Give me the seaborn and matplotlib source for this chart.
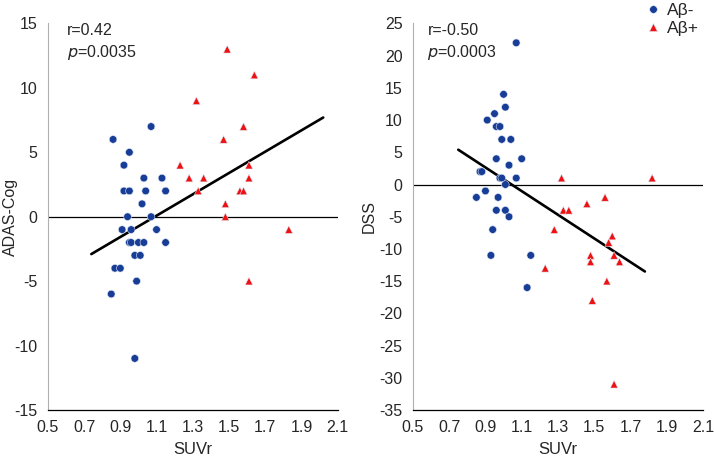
import pandas as pd
import matplotlib
matplotlib.use("Agg")
import matplotlib.pyplot as plt
import numpy as np
import seaborn as sns

# ---------------- data ----------------
# left panel: SUVr vs ADAS-Cog
adas_neg_x = [0.86, 1.07, 0.95, 0.92, 1.03, 1.13, 0.92, 0.95, 1.04, 1.15, 1.02, 0.94, 1.07,
              0.91, 0.96, 1.10, 0.95, 0.96, 1.00, 1.03, 1.15, 0.98, 1.01, 0.87, 0.90, 0.99,
              0.85, 0.98]
adas_neg_y = [6, 7, 5, 4, 3, 3, 2, 2, 2, 2, 1, 0, 0,
              -1, -1, -1, -2, -2, -2, -2, -2, -3, -3, -4, -4, -5,
              -6, -11]
adas_pos_x = [1.49, 1.64, 1.32, 1.47, 1.58, 1.23, 1.61, 1.28, 1.36, 1.61, 1.33, 1.56, 1.58,
              1.48, 1.48, 1.83, 1.61]
adas_pos_y = [13, 11, 9, 6, 7, 4, 4, 3, 3, 3, 2, 2, 2,
              1, 0, -1, -5]

# right panel: SUVr vs DSS
dss_neg_x = [1.07, 1.00, 1.01, 0.95, 0.91, 0.96, 0.98, 0.99, 1.04, 0.96, 1.10, 1.03, 0.87,
             0.88, 0.98, 0.99, 1.07, 1.01, 0.90, 0.85, 0.97, 0.96, 1.01, 1.03, 0.94, 0.93,
             1.15, 1.13]
dss_neg_y = [22, 14, 12, 11, 10, 9, 9, 7, 7, 4, 4, 3, 2,
             2, 1, 1, 1, 0, -1, -2, -2, -4, -4, -5, -7, -11,
             -11, -16]
dss_pos_x = [1.32, 1.82, 1.33, 1.36, 1.46, 1.56, 1.28, 1.60, 1.58, 1.48, 1.61, 1.48, 1.64,
             1.23, 1.57, 1.49, 1.61]
dss_pos_y = [1, 1, -4, -4, -3, -2, -7, -8, -9, -11, -11, -12, -12,
             -13, -15, -18, -31]

# drawn trend lines (ends)
adas_trend_x = [0.74, 2.02]
adas_trend_y = [-2.9, 7.7]
dss_trend_x = [0.75, 1.78]
dss_trend_y = [5.4, -13.5]

groups = ["A\u03b2-", "A\u03b2+"]
stats_adas = ["r=0.42", "0.0035"]
stats_dss = ["r=-0.50", "0.0003"]

x_ticks = np.arange(0.5, 2.11, 0.2)
adas_ticks = np.arange(-15, 16, 5)
dss_ticks = np.arange(-35, 26, 5)

# ----------------------------------------------------------
sns.set_style("white")
plt.rcParams["font.family"] = ["Liberation Sans", "DejaVu Sans"]
plt.rcParams["axes.unicode_minus"] = False

palette = {groups[0]: "#173d96", groups[1]: "#ee1111"}
markers = {groups[0]: "o", groups[1]: "^"}


def make_df(nx, ny, px, py):
    return pd.DataFrame({
        "SUVr": nx + px,
        "score": ny + py,
        "group": [groups[0]] * len(nx) + [groups[1]] * len(px),
    })


adas = make_df(adas_neg_x, adas_neg_y, adas_pos_x, adas_pos_y)
dss = make_df(dss_neg_x, dss_neg_y, dss_pos_x, dss_pos_y)
adas_trend = pd.DataFrame({"SUVr": adas_trend_x, "score": adas_trend_y})
dss_trend = pd.DataFrame({"SUVr": dss_trend_x, "score": dss_trend_y})

fig = plt.figure(figsize=(7.14, 4.62), dpi=100)
ax1 = fig.add_axes([0.067, 0.1126, 0.406, 0.8366])
ax2 = fig.add_axes([0.5784, 0.1126, 0.406, 0.8366])


def panel(ax, df, trend, ticks, ylabel, stats, text_x, label_x, legend):
    ax.axhline(0, color="black", lw=0.9, zorder=1)
    sns.lineplot(data=trend, x="SUVr", y="score", color="black", lw=1.9, ax=ax, zorder=2)
    sns.scatterplot(data=df, x="SUVr", y="score", hue="group", style="group",
                    palette=palette, markers=markers, s=30, edgecolor="#dfe6f5",
                    linewidth=0.4, ax=ax, legend=legend, zorder=3)
    ax.set_xlim(0.5, 2.1)
    ax.set_ylim(ticks[0], ticks[-1])
    ax.set_xticks(x_ticks)
    ax.set_xticklabels([f"{v:.1f}" for v in x_ticks])
    ax.set_yticks(ticks)
    ax.set_yticklabels([str(v) for v in ticks])
    ax.tick_params(axis="y", length=0, labelsize=11.5, pad=7.5)
    ax.tick_params(axis="x", length=0, labelsize=11.5, pad=7.5)
    ax.set_xlabel("SUVr", fontsize=12, labelpad=5)
    ax.set_ylabel(ylabel, fontsize=11.5)
    ax.yaxis.set_label_coords(label_x, 0.5)
    for side in ["top", "right"]:
        ax.spines[side].set_visible(False)
    ax.spines["left"].set_color("#b0b0b0")
    ax.spines["left"].set_linewidth(0.8)
    ax.spines["bottom"].set_color("black")
    ax.spines["bottom"].set_linewidth(0.9)
    ax.text(text_x, 1.0, stats[0], transform=ax.transAxes, va="top", fontsize=11.5)
    ax.text(text_x, 0.95, "$\\it{p}$=" + stats[1], transform=ax.transAxes, va="top",
            fontsize=11.5)


panel(ax1, adas, adas_trend, adas_ticks, "ADAS-Cog", stats_adas, 0.065, -0.102, False)
panel(ax2, dss, dss_trend, dss_ticks, "DSS", stats_dss, 0.05, -0.125, True)

leg = ax2.legend(loc="upper left", bbox_to_anchor=(0.893, 1.008),
                 bbox_transform=fig.transFigure, frameon=False, fontsize=12.5,
                 handletextpad=0.3, handlelength=1.0, labelspacing=0.15,
                 borderaxespad=0, title=None)

plt.savefig("out.png", dpi=100)
